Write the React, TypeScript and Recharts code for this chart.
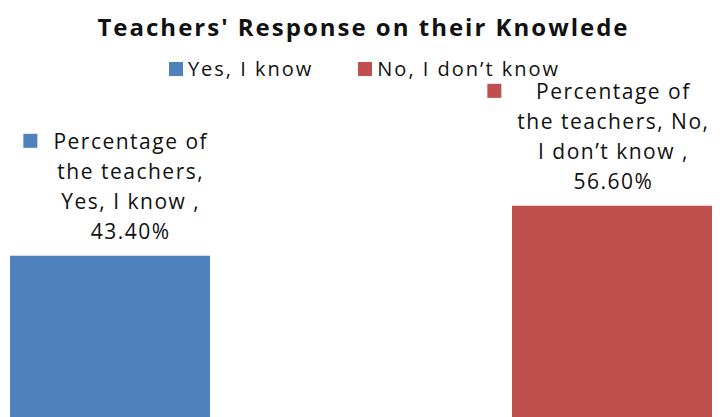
import React from 'react';
import { BarChart, Bar, XAxis, YAxis, Legend, LabelList } from 'recharts';

const categories = ['Percentage of the teachers'];
const seriesNames = ['Yes, I know', 'No, I don\u2019t know'];
const yesValues = [43.4];
const noValues = [56.6];
const yesLabelLines = ['Percentage of', 'the teachers,', 'Yes, I know ,', '43.40%'];
const noLabelLines = ['Percentage of', 'the teachers, No,', 'I don\u2019t know ,', '56.60%'];
const colors = ['#4F81BD', '#C0504D'];

const data = categories.map((c, i) => ({ name: c, yes: yesValues[i], no: noValues[i] }));

const FONT = '"Open Sans", Lato, sans-serif';
const LABEL_SIZE = 21;
const LABEL_SPACING = 1.5;
const SPACING = 2;
const CHART_W = 722;
const KEY = 14;
const KEY_GAP = 16;

let ctx: CanvasRenderingContext2D | null = null;
function measure(t: string) {
  if (!ctx) ctx = document.createElement('canvas').getContext('2d');
  if (!ctx) return t.length * 12;
  ctx.font = `${LABEL_SIZE}px ${FONT}`;
  return ctx.measureText(t).width + LABEL_SPACING * (t.length - 1);
}

const makeLabel = (lines: string[], color: string) => (props: any) => {
  const { x, y, width } = props;
  const maxW = Math.max(...lines.map(measure));
  const boxW = KEY + KEY_GAP + maxW;
  let left = x + width / 2 + 5 - boxW / 2;
  const maxRight = CHART_W - 14;
  if (left + boxW > maxRight) left = maxRight - boxW;
  const cx = left + KEY + KEY_GAP + maxW / 2;
  const n = lines.length;
  return (
    <g>
      <rect x={left} y={y - 122} width={KEY} height={KEY} fill={color} />
      {lines.map((l, i) => (
        <text key={i} x={cx + LABEL_SPACING / 2} y={y - 17 - 30 * (n - 1 - i)} textAnchor="middle" fontSize={LABEL_SIZE} fontFamily={FONT} fill="#111" style={{ letterSpacing: LABEL_SPACING }}>
          {l}
        </text>
      ))}
    </g>
  );
};

const renderLegend = () => (
  <div style={{ display: 'flex', justifyContent: 'center', fontFamily: FONT, fontSize: 20, color: '#111', lineHeight: '24px', letterSpacing: SPACING, paddingLeft: 4 }}>
    {seriesNames.map((s, i) => (
      <div key={s} style={{ display: 'flex', alignItems: 'center', marginRight: i === 0 ? 45 : 0 }}>
        <span style={{ width: 14, height: 14, background: colors[i], display: 'inline-block', marginRight: 5 }} />
        <span>{s}</span>
      </div>
    ))}
  </div>
);

export default function App() {
  return (
    <div style={{ position: 'absolute', left: 0, top: 0, width: 725, height: 417, overflow: 'hidden', background: '#fff' }}>
      <div style={{ position: 'absolute', left: 0, top: 12, width: 725, textAlign: 'center', fontFamily: FONT, fontWeight: 700, fontSize: 24, lineHeight: '30px', color: '#111', letterSpacing: SPACING, paddingLeft: 2, boxSizing: 'border-box' }}>
        Teachers' Response on their Knowlede
      </div>
      <BarChart width={CHART_W} height={420} data={data} margin={{ top: 193, right: 0, bottom: 0, left: 0 }} barGap={302} barSize={200}>
        <XAxis dataKey="name" hide />
        <YAxis hide domain={[0, 60]} />
        <Legend layout="horizontal" verticalAlign="middle" align="center" content={renderLegend} wrapperStyle={{ top: 57, left: 0, width: 725 }} />
        <Bar dataKey="yes" name={seriesNames[0]} fill={colors[0]} isAnimationActive={false}>
          <LabelList dataKey="yes" content={makeLabel(yesLabelLines, colors[0])} />
        </Bar>
        <Bar dataKey="no" name={seriesNames[1]} fill={colors[1]} isAnimationActive={false}>
          <LabelList dataKey="no" content={makeLabel(noLabelLines, colors[1])} />
        </Bar>
      </BarChart>
    </div>
  );
}
